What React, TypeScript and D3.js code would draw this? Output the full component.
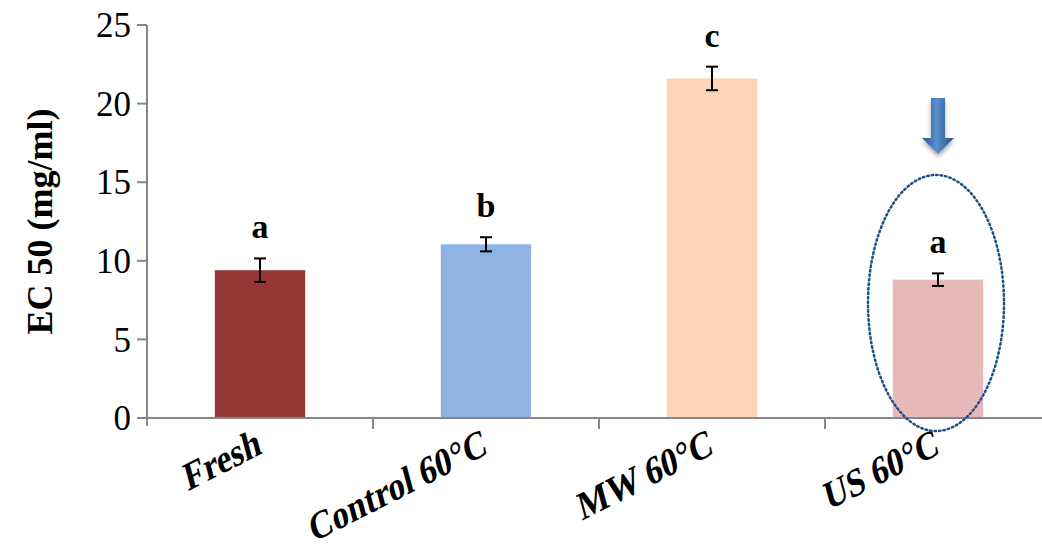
import React from "react";
import * as d3 from "d3";

const categories = ["Fresh", "Control 60°C", "MW 60°C", "US 60°C"];
const ec50 = [9.4, 11.05, 21.6, 8.8];
const errors = [0.75, 0.45, 0.75, 0.4];
const groupLetters = ["a", "b", "c", "a"];
const barColors = ["#953735", "#8EB4E3", "#FCD5B5", "#E6B9B8"];
const yTicks = [0, 5, 10, 15, 20, 25];

const W = 1042;
const H = 549;
const margin = { left: 147, top: 25, right: -9, bottom: 131 };

export default function App() {
  const x = d3
    .scaleBand<string>()
    .domain(categories)
    .range([margin.left, W - margin.right])
    .paddingInner(0)
    .paddingOuter(0);
  const y = d3.scaleLinear().domain([0, 25]).range([H - margin.bottom, margin.top]);
  const barW = x.bandwidth() * 0.4;
  const font = "'Times New Roman', 'Liberation Serif', serif";
  const axisColor = "#878787";

  const hi = categories.length - 1;
  const cxHi = (x(categories[hi]) as number) + x.bandwidth() / 2;

  return (
    <svg
      width={W}
      height={H}
      style={{ position: "absolute", left: 0, top: 0 }}
      fontFamily={font}
    >
      <defs>
        <linearGradient id="arrowFill" x1="0" x2="1" y1="0" y2="0">
          <stop offset="0" stopColor="#24548F" />
          <stop offset="0.45" stopColor="#5A90D0" />
          <stop offset="1" stopColor="#22508A" />
        </linearGradient>
        <filter id="arrowShadow" x="-50%" y="-50%" width="200%" height="200%">
          <feGaussianBlur in="SourceAlpha" stdDeviation="2" />
          <feOffset dx="0" dy="3" result="b" />
          <feComponentTransfer>
            <feFuncA type="linear" slope="0.35" />
          </feComponentTransfer>
          <feMerge>
            <feMergeNode />
            <feMergeNode in="SourceGraphic" />
          </feMerge>
        </filter>
      </defs>

      {/* bars */}
      {categories.map((c, i) => {
        const cx = (x(c) as number) + x.bandwidth() / 2;
        return (
          <rect
            key={c}
            x={cx - barW / 2}
            y={y(ec50[i])}
            width={barW}
            height={y(0) - y(ec50[i])}
            fill={barColors[i]}
          />
        );
      })}

      {/* y axis */}
      <line x1={margin.left} x2={margin.left} y1={y(25)} y2={y(0) + 8} stroke={axisColor} strokeWidth={2} />
      {yTicks.map((t) => (
        <g key={t}>
          <line x1={margin.left - 10} x2={margin.left} y1={y(t)} y2={y(t)} stroke={axisColor} strokeWidth={2} />
          <text
            x={margin.left - 16}
            y={y(t)}
            dy="0.35em"
            textAnchor="end"
            fontSize={35}
            fill="#000"
          >
            {t}
          </text>
        </g>
      ))}

      {/* x axis */}
      <line x1={margin.left} x2={W} y1={y(0)} y2={y(0)} stroke={axisColor} strokeWidth={2} />
      {categories.slice(1).map((c) => (
        <line
          key={c}
          x1={x(c) as number}
          x2={x(c) as number}
          y1={y(0)}
          y2={y(0) + 11}
          stroke={axisColor}
          strokeWidth={2}
        />
      ))}

      {/* error bars */}
      {categories.map((c, i) => {
        const cx = (x(c) as number) + x.bandwidth() / 2;
        const top = y(ec50[i] + errors[i]);
        const bot = y(ec50[i] - errors[i]);
        return (
          <g key={c} stroke="#000" strokeWidth={2}>
            <line x1={cx} x2={cx} y1={top} y2={bot} />
            <line x1={cx - 6} x2={cx + 6} y1={top} y2={top} />
            <line x1={cx - 6} x2={cx + 6} y1={bot} y2={bot} />
          </g>
        );
      })}

      {/* significance letters */}
      {categories.map((c, i) => {
        const cx = (x(c) as number) + x.bandwidth() / 2;
        return (
          <text
            key={c}
            x={cx}
            y={y(ec50[i] + errors[i]) - 20}
            textAnchor="middle"
            fontSize={34}
            fontWeight="bold"
          >
            {groupLetters[i]}
          </text>
        );
      })}

      {/* category labels */}
      {categories.map((c) => {
        const cx = (x(c) as number) + x.bandwidth() / 2;
        return (
          <text
            key={c}
            transform={`translate(${cx + 3},${y(0) + 35}) rotate(-15) skewY(-12) scale(0.97,1.12)`}
            textAnchor="end"
            fontSize={35}
            fontWeight="bold"
          >
            {c}
          </text>
        );
      })}

      {/* y axis title */}
      <text
        transform={`translate(52,${(y(0) + y(25)) / 2}) rotate(-90)`}
        textAnchor="middle"
        fontSize={36}
        fontWeight="bold"
      >
        EC 50 (mg/ml)
      </text>

      {/* highlight on the US sample */}
      <ellipse
        cx={cxHi - 2}
        cy={303}
        rx={68}
        ry={128}
        fill="none"
        stroke="#1F4E8C"
        strokeWidth={2.5}
        strokeDasharray="1.5 3"
        strokeLinecap="round"
      />
      <path
        filter="url(#arrowShadow)"
        fill="url(#arrowFill)"
        d={`M${cxHi - 7},98 L${cxHi + 7},98 L${cxHi + 7},138 L${cxHi + 16},138 L${cxHi},154 L${cxHi - 16},138 L${cxHi - 7},138 Z`}
      />
    </svg>
  );
}
